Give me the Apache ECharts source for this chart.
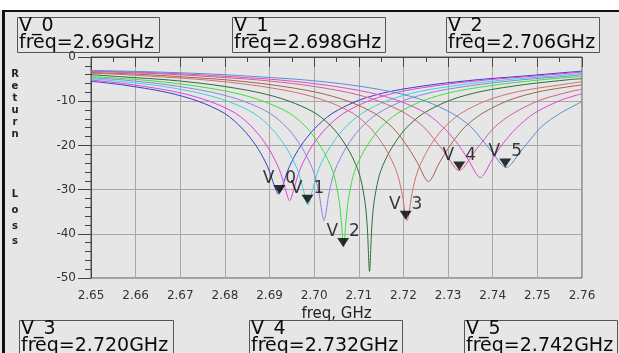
<!DOCTYPE html>
<html>
<head>
<meta charset="utf-8">
<script src="https://cdn.jsdelivr.net/npm/echarts@6.0.0/dist/echarts.min.js"></script>
<style>
  html, body {margin: 0; padding: 0; background: #fff;}
  #chart {width: 619px; height: 353px;}
</style>
</head>
<body>
<div id="chart"></div>
<script>
// return loss traces, [freq GHz, dB]
const trace0 = [[2.65,-5.5],[2.657,-6.3],[2.667,-8],[2.674,-10],[2.68,-12.8],[2.684,-16.3],[2.687,-20.1],[2.689,-23.6],[2.69,-25.9],[2.691,-28.9],[2.692,-31],[2.693,-28.9],[2.694,-25.9],[2.695,-23.6],[2.697,-20.1],[2.7,-16.3],[2.704,-12.8],[2.71,-9.8],[2.717,-7.8],[2.727,-6.2],[2.737,-5.1],[2.747,-4.3],[2.757,-3.45],[2.76,-3.2]]
const trace1 = [[2.65,-5.2],[2.6595,-6.3],[2.6695,-8],[2.6765,-10],[2.6825,-12.8],[2.6865,-16.3],[2.6895,-20.2],[2.6915,-23.9],[2.6925,-26.3],[2.6935,-29.7],[2.6945,-32.5],[2.6955,-29.7],[2.6965,-26.3],[2.6975,-23.9],[2.6995,-20.2],[2.7025,-16.3],[2.7065,-12.8],[2.7125,-9.8],[2.7195,-7.8],[2.7295,-6.2],[2.7395,-5.1],[2.7495,-4.3],[2.76,-3.4]]
const trace2 = [[2.65,-4.9],[2.6636,-6.3],[2.6736,-8],[2.6806,-10],[2.6866,-12.8],[2.6906,-16.3],[2.6936,-20.3],[2.6956,-24],[2.6966,-26.5],[2.6976,-30.2],[2.6986,-33.5],[2.6996,-30.2],[2.7006,-26.5],[2.7016,-24],[2.7036,-20.3],[2.7066,-16.3],[2.7106,-12.8],[2.7166,-9.8],[2.7236,-7.8],[2.7336,-6.2],[2.7436,-5.1],[2.7536,-4.3],[2.76,-3.7]]
const trace3 = [[2.65,-4.7],[2.6572,-5.2],[2.6672,-6.3],[2.6772,-8],[2.6842,-10],[2.6902,-12.8],[2.6942,-16.3],[2.6972,-20.4],[2.6992,-24.3],[2.7002,-27],[2.7012,-31.5],[2.7017,-34.9],[2.7022,-37],[2.7027,-34.9],[2.7032,-31.5],[2.7042,-27],[2.7052,-24.3],[2.7072,-20.4],[2.7102,-16.3],[2.7142,-12.8],[2.7202,-9.8],[2.7272,-7.8],[2.7372,-6.2],[2.7472,-5.1],[2.7572,-4.3],[2.76,-4.0]]
const trace4 = [[2.65,-4.4],[2.6616,-5.2],[2.6716,-6.3],[2.6816,-8],[2.6886,-10],[2.6946,-12.8],[2.6986,-16.3],[2.7016,-20.5],[2.7036,-24.4],[2.7046,-27.4],[2.7056,-32.6],[2.7061,-37.5],[2.7066,-43],[2.7071,-37.5],[2.7076,-32.6],[2.7086,-27.4],[2.7096,-24.4],[2.7116,-20.5],[2.7146,-16.3],[2.7186,-12.8],[2.7246,-9.8],[2.7316,-7.8],[2.7416,-6.2],[2.7516,-5.1],[2.76,-4.4]]
const trace5 = [[2.65,-4.0],[2.6574,-4.5],[2.6674,-5.2],[2.6774,-6.3],[2.6874,-8],[2.6944,-10],[2.7004,-12.8],[2.7044,-16.3],[2.7074,-20.5],[2.7094,-24.5],[2.7104,-27.5],[2.7114,-32.9],[2.7119,-38.5],[2.7124,-48.5],[2.7129,-38.5],[2.7134,-32.9],[2.7144,-27.5],[2.7154,-24.5],[2.7174,-20.5],[2.7204,-16.3],[2.7244,-12.8],[2.7304,-9.8],[2.7374,-7.8],[2.7474,-6.2],[2.7574,-5.1],[2.76,-4.9]]
const trace6 = [[2.65,-3.7],[2.6558,-3.9],[2.6658,-4.5],[2.6758,-5.2],[2.6858,-6.3],[2.6958,-8],[2.7028,-10],[2.7088,-12.8],[2.7128,-16.3],[2.7158,-20.4],[2.7178,-24.3],[2.7188,-27],[2.7198,-31.5],[2.7203,-34.9],[2.7208,-37],[2.7213,-34.9],[2.7218,-31.5],[2.7228,-27],[2.7238,-24.3],[2.7258,-20.4],[2.7288,-16.3],[2.7328,-12.8],[2.7388,-9.8],[2.7458,-7.8],[2.7558,-6.2],[2.76,-5.6]]
const trace7 = [[2.65,-3.5],[2.6606,-3.9],[2.6706,-4.5],[2.6806,-5.2],[2.6906,-6.3],[2.7006,-8],[2.7076,-10],[2.7136,-12.8],[2.7176,-16],[2.7206,-19.8],[2.7226,-23],[2.7236,-24.8],[2.7246,-27],[2.7256,-28.2],[2.7266,-27],[2.7276,-24.8],[2.7286,-23],[2.7306,-19.8],[2.7336,-16],[2.7376,-12.8],[2.7436,-9.8],[2.7506,-7.8],[2.76,-6.3]]
const trace8 = [[2.65,-3.25],[2.6575,-3.5],[2.6675,-3.9],[2.6775,-4.5],[2.6875,-5.2],[2.6975,-6.3],[2.7075,-8],[2.7145,-10],[2.7205,-12.8],[2.7245,-15.8],[2.7275,-19.4],[2.7295,-22],[2.7305,-23.5],[2.7315,-25],[2.7325,-25.7],[2.7335,-25],[2.7345,-23.5],[2.7355,-22],[2.7375,-19.4],[2.7405,-15.8],[2.7445,-12.8],[2.7505,-9.8],[2.7575,-7.8],[2.76,-7.3]]
const trace9 = [[2.65,-3.15],[2.6622,-3.5],[2.6722,-3.9],[2.6822,-4.5],[2.6922,-5.2],[2.7022,-6.3],[2.7122,-8],[2.7192,-10],[2.7252,-12.8],[2.7292,-16.2],[2.7322,-19.7],[2.7342,-22.7],[2.7352,-24.4],[2.7362,-26.3],[2.7372,-27.3],[2.7382,-26.3],[2.7392,-24.4],[2.7402,-22.7],[2.7422,-19.7],[2.7452,-16.2],[2.7492,-12.8],[2.7552,-9.8],[2.76,-8.3]]
const trace10 = [[2.65,-3.05],[2.658,-3.2],[2.668,-3.5],[2.678,-3.9],[2.688,-4.5],[2.698,-5.2],[2.708,-6.3],[2.718,-8],[2.725,-10],[2.731,-12.8],[2.735,-15.7],[2.738,-19.2],[2.74,-21.7],[2.741,-23.1],[2.742,-24.4],[2.743,-25],[2.744,-24.4],[2.745,-23.1],[2.746,-21.7],[2.748,-19.2],[2.751,-15.7],[2.755,-12.8],[2.76,-10.1]]

const traces = [trace0, trace1, trace2, trace3, trace4, trace5, trace6, trace7, trace8, trace9, trace10]
const traceColors = ['#3c3cc8', '#e040e0', '#40d0d8', '#8c82e0', '#3ce03c', '#2f6b3a',
  '#d07070', '#a0644c', '#d0608c', '#e048d0', '#5b8fd0']

// markers
const markerNames = ['V_0', 'V_1', 'V_2', 'V_3', 'V_4', 'V_5']
const markerFreqText = ['2.69', '2.698', '2.706', '2.720', '2.732', '2.742']
const markerFreq = [2.6922, 2.6985, 2.7065, 2.7205, 2.7325, 2.7428]
const markerLoss = [-31, -33.2, -43, -36.8, -25.7, -25]

const xTicksMin = 2.65
const xTicksMax = 2.76
const yTicksMin = -50
const yTicksMax = 0

const chart = echarts.init(document.getElementById('chart'))

const font = 'DejaVu Sans'
const boxes = [[17, 17, 142, 35], [232, 17, 153, 35], [446, 17, 153, 35],
  [19, 320, 154, 34], [249, 320, 153, 34], [464, 320, 153, 34]]
const letterY = [74, 86, 98, 110, 122, 134, 194, 210, 226, 241]

const graphic = [
  {type: 'rect', shape: {x: 0, y: 0, width: 619, height: 10}, style: {fill: '#fff'}, silent: true},
  {type: 'rect', shape: {x: 2, y: 10, width: 617, height: 2}, style: {fill: '#111'}, silent: true},
  {type: 'rect', shape: {x: 2, y: 10, width: 3, height: 343}, style: {fill: '#111'}, silent: true},
]
boxes.forEach((b, i) => {
  graphic.push({
    type: 'rect', shape: {x: b[0] + 0.5, y: b[1] + 0.5, width: b[2], height: b[3]},
    style: {fill: 'none', stroke: '#555', lineWidth: 1}, silent: true,
  })
  graphic.push({
    type: 'text', x: b[0] + 2, y: b[1] + 1,
    style: {
      text: markerNames[i] + '\nfreq=' + markerFreqText[i] + 'GHz',
      font: '19px ' + font, fill: '#0a0a0a', lineHeight: 17, verticalAlign: 'top',
    },
    silent: true,
  })
})
'Return Loss'.replace(' ', '').split('').forEach((ch, i) => {
  graphic.push({
    type: 'text', x: 15, y: letterY[i],
    style: {text: ch, font: 'bold 10px ' + font, fill: '#222', align: 'center', verticalAlign: 'middle'},
    silent: true,
  })
})

const option = {
  animation: false,
  backgroundColor: '#e6e6e6',
  grid: {left: 91, right: 37, top: 57, bottom: 75, show: true, borderColor: '#555', borderWidth: 1},
  xAxis: {
    type: 'value', min: xTicksMin, max: xTicksMax, interval: 0.01,
    name: 'freq, GHz', nameLocation: 'middle', nameGap: 23,
    nameTextStyle: {fontFamily: font, fontSize: 15, color: '#222'},
    axisLine: {lineStyle: {color: '#444'}},
    axisTick: {length: 10, lineStyle: {color: '#444'}},
    minorTick: {show: true, splitNumber: 2, length: 5, lineStyle: {color: '#444'}},
    axisLabel: {margin: 12, fontFamily: font, fontSize: 12, color: '#333', formatter: v => v.toFixed(2)},
    splitLine: {lineStyle: {color: '#a8a8a8'}},
  },
  yAxis: {
    type: 'value', min: yTicksMin, max: yTicksMax, interval: 10,
    axisLine: {show: true, lineStyle: {color: '#444'}},
    axisTick: {show: true, length: 13, lineStyle: {color: '#444'}},
    minorTick: {show: true, splitNumber: 5, length: 6, lineStyle: {color: '#444'}},
    axisLabel: {margin: 15, fontFamily: font, fontSize: 12, color: '#333'},
    splitLine: {lineStyle: {color: '#a8a8a8'}},
  },
  series: traces.map((t, i) => ({
    type: 'line', data: t, showSymbol: false, smooth: 0.3, silent: true,
    lineStyle: {width: 1, color: traceColors[i]}, itemStyle: {color: traceColors[i]},
  })).concat([{
    type: 'scatter', z: 5, silent: true,
    data: markerFreq.map((f, i) => [f, markerLoss[i]]),
    symbol: 'triangle', symbolRotate: 180, symbolSize: [12, 9], symbolOffset: [0, -4.5],
    itemStyle: {color: '#000'},
    label: {
      show: true, position: 'inside', offset: [0, -11],
      formatter: p => '{v|V}{g|}{n|' + p.dataIndex + '}',
      rich: {
        v: {fontFamily: font, fontSize: 17, color: '#0a0a0a'},
        g: {width: 11},
        n: {fontFamily: font, fontSize: 17, color: '#0a0a0a'},
      },
    },
  }]),
  graphic: graphic,
}

chart.setOption(option)
</script>
</body>
</html>
